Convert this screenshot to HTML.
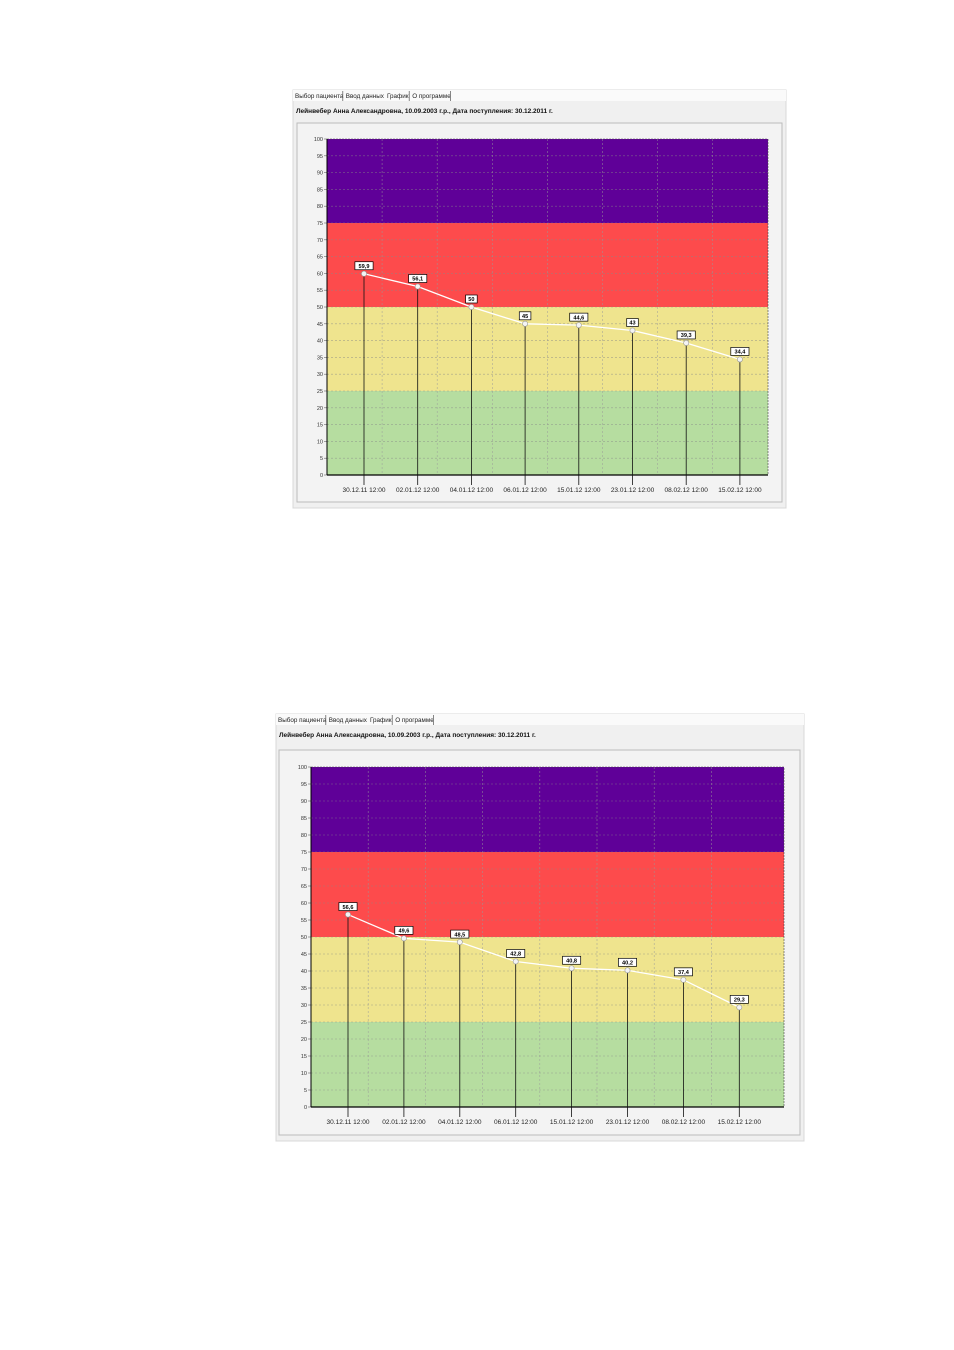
<!DOCTYPE html>
<html><head><meta charset="utf-8"><style>
html,body{margin:0;padding:0;background:#fff;width:954px;height:1350px;overflow:hidden}
svg text{font-family:"Liberation Sans",sans-serif}
</style></head><body>
<svg id="s" width="954" height="1350" viewBox="0 0 954 1350"></svg>
<script>
const categories=["30.12.11 12:00","02.01.12 12:00","04.01.12 12:00","06.01.12 12:00","15.01.12 12:00","23.01.12 12:00","08.02.12 12:00","15.02.12 12:00"];
const valuesTop=[59.9,56.1,50,45,44.6,43,39.3,34.4];
const valuesBottom=[56.6,49.6,48.5,42.8,40.8,40.2,37.4,29.3];
const labelsTop=["59,9","56,1","50","45","44,6","43","39,3","34,4"];
const labelsBottom=["56,6","49,6","48,5","42,8","40,8","40,2","37,4","29,3"];
const yTicks=[0,5,10,15,20,25,30,35,40,45,50,55,60,65,70,75,80,85,90,95,100];
const bandLimits=[0,25,50,75,100];
const bandColors=["#b6dda0","#efe48e","#fd4b4c","#5f0098"];
const tabs=["Выбор пациента","Ввод данных","График","О программе"];
const titleText="Лейнвебер Анна Александровна, 10.09.2003 г.р., Дата поступления: 30.12.2011 г.";
const NS="http://www.w3.org/2000/svg";
const svg=document.getElementById('s');
function mk(tag,attrs,parent,text){const e=document.createElementNS(NS,tag);for(const k in attrs)e.setAttribute(k,attrs[k]);if(text!==undefined)e.textContent=text;(parent||svg).appendChild(e);return e;}
function chart(cfg,values,labels,id){
  const g=mk('g',{});
  
  
  // panel
  const p=mk('rect',{x:cfg.px,y:cfg.py,width:cfg.pw,height:cfg.ph,fill:'#f0f0f0',stroke:'#d8d8d8'},g);
  
  mk('rect',{x:cfg.px,y:cfg.py,width:cfg.pw,height:11,fill:'#fafafa'},g);
  let tx=cfg.px+2;
  tabs.forEach((t,i)=>{
    const te=mk('text',{x:tx,y:cfg.py+8,'font-size':6.3,fill:'#222'},g,t);
    
    
    const w=t.length*3.2+3;
    if(i!==1)mk('line',{x1:tx+w,x2:tx+w,y1:cfg.py+1,y2:cfg.py+11,stroke:'#555','stroke-width':0.7},g);
    tx+=w+3;
  });
  const tt=mk('text',{x:cfg.px+3,y:cfg.py+23,'font-size':6.5,'font-weight':'bold',fill:'#111'},g,titleText);
  
  const box=mk('rect',{x:cfg.bx,y:cfg.by,width:cfg.bw,height:cfg.bh,fill:'#f3f3f3',stroke:'#bbb'},g);
  
  const L=cfg.x0,R=cfg.x1,T=cfg.yTop,B=cfg.yBot;
  const y=v=>B-(v/100)*(B-T);
  const x=i=>cfg.xs+i*cfg.step;
  for(let i=0;i<4;i++){
    const r=mk('rect',{x:L,y:y(bandLimits[i+1]),width:R-L,height:y(bandLimits[i])-y(bandLimits[i+1]),fill:bandColors[i]},g);
    
  }
  yTicks.forEach(v=>{
    if(v>0&&v<100)mk('line',{x1:L,x2:R,y1:y(v),y2:y(v),stroke:'#888','stroke-width':0.6,'stroke-dasharray':'2,2',opacity:0.7},g);
    mk('line',{x1:L-3,x2:L,y1:y(v),y2:y(v),stroke:'#666','stroke-width':0.6},g);
    const t=mk('text',{x:L-4,y:y(v)+2,'font-size':5.5,'text-anchor':'end',fill:'#333'},g,v);
    
  });
  for(let k=1;k<8;k++){const gx=L+k*cfg.grid;mk('line',{x1:gx,x2:gx,y1:T,y2:B,stroke:'#999','stroke-width':0.6,'stroke-dasharray':'2,2',opacity:0.8},g);}
  mk('rect',{x:L,y:T,width:R-L,height:B-T,fill:'none',stroke:'#444','stroke-width':0.6,'stroke-dasharray':'2,1'},g);
  mk('line',{x1:L,x2:L,y1:T,y2:B,stroke:'#000','stroke-width':1},g);
  mk('line',{x1:L,x2:R,y1:B,y2:B,stroke:'#000','stroke-width':1.2},g);
  values.forEach((v,i)=>{
    const s=mk('line',{x1:x(i),x2:x(i),y1:y(v),y2:B+10,stroke:'#111','stroke-width':0.8},g);
    
    const t=mk('text',{x:x(i)+cfg.lblOff,y:B+17,'font-size':6.5,'text-anchor':'middle',fill:'#222'},g,categories[i]);
    
  });
  const pts=values.map((v,i)=>x(i)+','+y(v)).join(' ');
  const pl=mk('polyline',{points:pts,fill:'none',stroke:'#fff','stroke-width':1.3},g);
  
  values.forEach((v,i)=>{
    const c=mk('circle',{cx:x(i),cy:y(v),r:2.6,fill:'#f4f4f4',stroke:'#999','stroke-width':0.6},g);
    
    const w=labels[i].length*3.3+5;
    mk('rect',{x:x(i)-w/2,y:y(v)-12,width:w,height:8,fill:'#fff',stroke:'#000','stroke-width':0.7},g);
    const t=mk('text',{x:x(i),y:y(v)-5.8,'font-size':5.6,'font-weight':'bold','text-anchor':'middle',fill:'#000'},g,labels[i]);
    
  });
}
chart({px:293,py:90,pw:493,ph:418,bx:297,by:123,bw:485,bh:379,x0:327,x1:768,yTop:139,yBot:475,xs:364,step:53.7,grid:55.1,lblOff:0},valuesTop,labelsTop,'chart-top');
chart({px:276,py:714,pw:528,ph:427,bx:279,by:750,bw:521,bh:385,x0:311,x1:784,yTop:767,yBot:1107,xs:348,step:55.9,grid:57.2,lblOff:0},valuesBottom,labelsBottom,'chart-bottom');
</script>
</body></html>
